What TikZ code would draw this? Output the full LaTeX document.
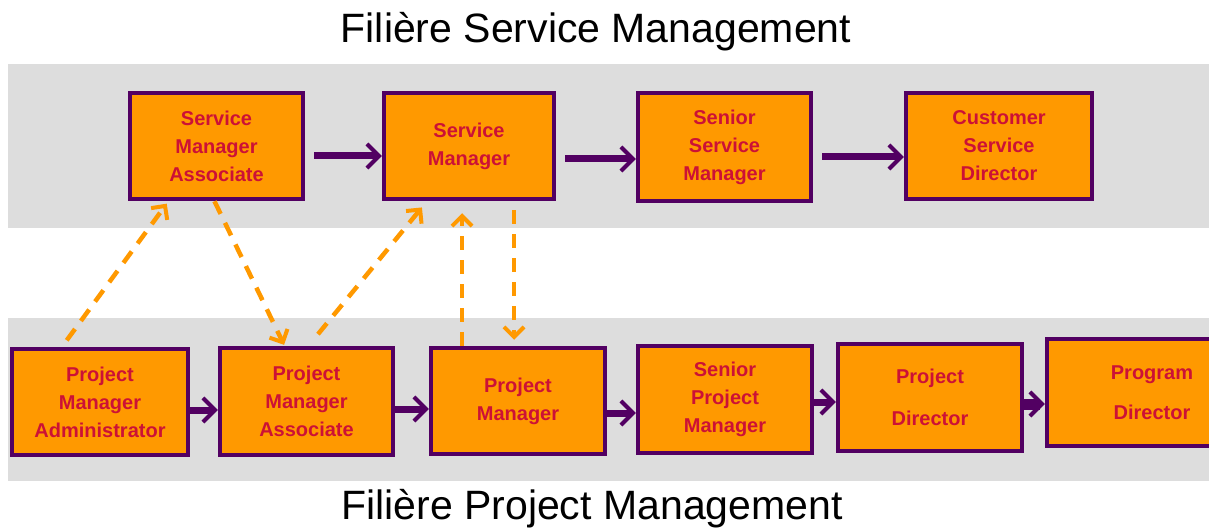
\documentclass[tikz,border=0pt]{standalone}
\usepackage{fontspec}
\setmainfont{Liberation Sans}
\usetikzlibrary{arrows.meta}
\definecolor{boxorange}{HTML}{FF9900}
\definecolor{boxpurple}{HTML}{520062}
\definecolor{labelred}{HTML}{CC1136}
\definecolor{bandgray}{HTML}{DDDDDD}
\tikzset{
  rolebox/.style={draw=boxpurple, fill=boxorange, line width=4.5pt,
    text=labelred, align=center, inner sep=0pt,
    font=\bfseries\fontsize{20}{28}\selectfont},
  flow/.style={draw=boxpurple, line width=7pt,
    -{Straight Barb[length=12pt,width=24pt,line width=4pt]}},
  bridge/.style={draw=boxorange, line width=4.5pt, dash pattern=on 14pt off 10pt,
    -{Straight Barb[length=10pt,width=20pt,line width=4pt]}},
  heading/.style={anchor=base, font=\fontsize{41}{41}\selectfont}
}
\begin{document}
\begin{tikzpicture}[x=1pt,y=-1pt]
	% page frame
	\clip (0,0) rectangle (1209,529);
	\fill[white] (0,0) rectangle (1209,529);
	% the two bands
	\fill[bandgray] (8,64) rectangle (1209,228);
	\fill[bandgray] (8,318) rectangle (1209,481);
	% titles
	\node[heading] (titleservice) at (596,43) {Filière Service Management};
	\node[heading] (titleproject) at (592,519) {Filière Project Management};
	% service management boxes
	\node[rolebox, minimum width=173, minimum height=106] (sma) at (216.5,146) {Service\\Manager\\Associate};
	\node[rolebox, minimum width=170, minimum height=106] (sm) at (469,146) {Service\\Manager};
	\node[rolebox, minimum width=173, minimum height=108] (ssm) at (724.5,147) {Senior\\Service\\Manager};
	\node[rolebox, minimum width=186, minimum height=106] (csd) at (999,146) {Customer\\Service\\Director};
	% project management boxes
	\node[rolebox, minimum width=176, minimum height=106] (pma) at (100,402) {Project\\Manager\\Administrator};
	\node[rolebox, minimum width=173, minimum height=107] (pmas) at (306.5,401.5) {Project\\Manager\\Associate};
	\node[rolebox, minimum width=174, minimum height=106] (pm) at (518,401) {Project\\Manager};
	\node[rolebox, minimum width=174, minimum height=107] (spm) at (725,399.5) {Senior\\Project\\Manager};
	\node[rolebox, minimum width=184, minimum height=107] (pd) at (930,397.5) {Project\\[14pt]Director};
	\node[rolebox, minimum width=210, minimum height=107] (prd) at (1152,392.5) {Program\\[12pt]Director};
	% service career path
	\draw[flow, shorten <=9pt] ([yshift=-10pt]sma.east) -- ([yshift=-10pt]sm.west);
	\draw[flow, shorten <=9pt] ([yshift=-13pt]sm.east) -- ([yshift=-12pt]ssm.west);
	\draw[flow, shorten <=9pt] ([yshift=-10pt]ssm.east) -- ([yshift=-11pt]csd.west);
	% project career path
	\draw[flow] ([yshift=-8pt]pma.east) -- ([yshift=-8.5pt]pmas.west);
	\draw[flow] ([yshift=-7.5pt]pmas.east) -- ([yshift=-8pt]pm.west);
	\draw[flow] ([yshift=-12pt]pm.east) -- ([yshift=-13.5pt]spm.west);
	\draw[flow] ([yshift=-2.5pt]spm.east) -- ([yshift=-4.5pt]pd.west);
	\draw[flow, line width=11pt] ([yshift=-6.5pt]pd.east) -- ([yshift=-11.5pt]prd.west);
	% moves between the two paths
	\draw[bridge, shorten <=8pt, shorten >=3pt] ([xshift=-38pt]pma.north) -- ([xshift=-48pt]sma.south);
	\draw[bridge, shorten >=1pt] ([xshift=-2pt]sma.south) -- ([xshift=-22pt]pmas.north);
	\draw[bridge, shorten <=15pt, shorten >=8pt] ([xshift=2pt]pmas.north) -- ([xshift=-42pt]sm.south);
	\draw[bridge, shorten >=12pt] ([xshift=-56pt]pm.north) -- ([xshift=-7pt]sm.south);
	\draw[bridge, shorten <=9pt, shorten >=6pt] ([xshift=45pt]sm.south) -- ([xshift=-4pt]pm.north);
\end{tikzpicture}
\end{document}
